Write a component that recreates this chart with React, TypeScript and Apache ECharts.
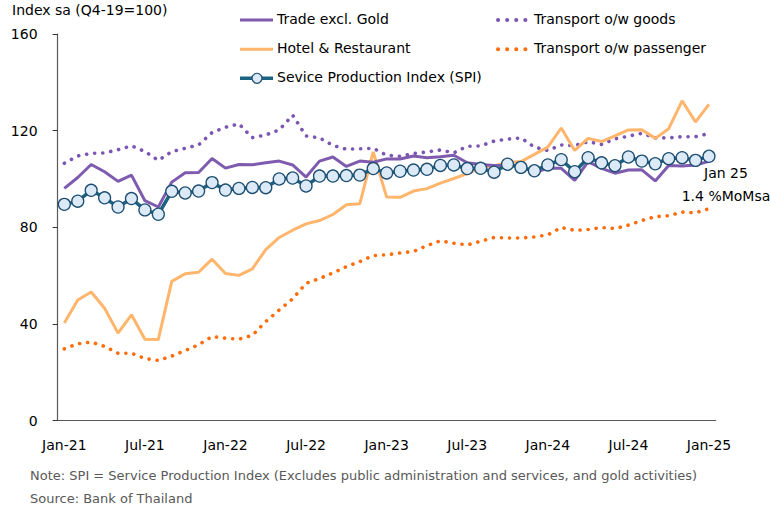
import React, { useEffect, useRef } from "react";
import * as echarts from "echarts";

const months = [
  "Jan-21", "Feb-21", "Mar-21", "Apr-21", "May-21", "Jun-21", "Jul-21", "Aug-21", "Sep-21", "Oct-21", "Nov-21", "Dec-21",
  "Jan-22", "Feb-22", "Mar-22", "Apr-22", "May-22", "Jun-22", "Jul-22", "Aug-22", "Sep-22", "Oct-22", "Nov-22", "Dec-22",
  "Jan-23", "Feb-23", "Mar-23", "Apr-23", "May-23", "Jun-23", "Jul-23", "Aug-23", "Sep-23", "Oct-23", "Nov-23", "Dec-23",
  "Jan-24", "Feb-24", "Mar-24", "Apr-24", "May-24", "Jun-24", "Jul-24", "Aug-24", "Sep-24", "Oct-24", "Nov-24", "Dec-24",
  "Jan-25",
];

const spi = [
  89.5, 90.8, 95.3, 92.2, 88.4, 91.9, 87.2, 85.4, 94.9, 94.2, 95.0, 98.5,
  95.4, 96.1, 96.5, 96.4, 100.0, 100.4, 97.1, 101.2, 101.2, 101.4, 101.6, 104.3,
  102.5, 103.2, 103.7, 104.0, 105.6, 105.8, 104.3, 104.4, 102.8, 106.1, 104.8, 103.4,
  105.8, 108.0, 103.0, 108.8, 106.7, 105.5, 109.1, 107.4, 106.3, 108.4, 108.8, 107.7,
  109.4,
];

const trade = [
  96.1, 100.6, 106.0, 103.0, 99.0, 101.6, 91.0, 88.4, 98.7, 102.6, 102.7, 108.5,
  104.5, 106.0, 105.9, 106.7, 107.4, 105.8, 100.8, 107.4, 109.1, 105.2, 107.4, 106.9,
  108.3, 108.3, 109.5, 108.8, 109.2, 109.8, 106.7, 106.0, 105.6, 105.6, 105.2, 102.7,
  104.4, 104.4, 99.4, 107.2, 104.4, 102.4, 103.7, 103.8, 99.2, 105.6, 105.4, 105.8,
  107.3,
];

const goods = [
  106.5, 109.5, 110.6, 110.8, 112.1, 113.7, 111.4, 107.7, 111.3, 112.7, 114.1, 119.2,
  121.4, 122.8, 117.1, 118.2, 120.3, 126.4, 117.8, 117.0, 113.9, 112.3, 112.5, 112.7,
  109.8, 109.4, 110.5, 111.2, 112.0, 110.8, 113.5, 113.7, 115.7, 116.5, 117.0, 113.2,
  111.8, 114.1, 113.8, 115.4, 114.3, 116.6, 117.7, 118.9, 117.0, 117.0, 117.5, 117.5,
  118.8,
];

const hotel = [
  40.4, 49.9, 53.2, 46.5, 36.2, 43.8, 33.7, 33.6, 57.6, 60.8, 61.4, 66.8,
  60.9, 60.1, 62.8, 70.8, 75.8, 78.8, 81.4, 82.8, 85.3, 89.3, 89.7, 111.2,
  92.5, 92.4, 95.0, 96.0, 98.3, 100.2, 102.2, 104.7, 105.4, 106.8, 107.2, 110.2,
  113.2, 121.1, 111.8, 116.8, 115.5, 117.8, 120.3, 120.4, 116.8, 120.8, 132.3, 123.6,
  130.9,
];

const passenger = [
  29.7, 31.8, 32.5, 30.7, 27.9, 27.9, 25.7, 24.9, 26.7, 29.0, 31.4, 34.8,
  34.1, 33.7, 35.3, 41.0, 45.8, 50.4, 56.8, 58.8, 61.1, 63.7, 65.8, 68.3,
  68.6, 69.4, 70.0, 72.4, 74.4, 73.4, 72.7, 74.2, 75.8, 75.6, 75.6, 76.0,
  76.9, 79.9, 78.7, 79.1, 79.9, 79.5, 80.9, 82.8, 84.4, 84.8, 86.3, 86.0,
  87.7,
];

const FONT = "DejaVu Sans";
const C_TRADE = "#7E5BAE";
const C_GOODS = "#7B55B3";
const C_HOTEL = "#FFB56B";
const C_PASS = "#FF6D0A";
const C_SPI = "#1B6380";
const C_SPI_FILL = "#DCE9F6";
const C_SPI_BORDER = "#1E4F73";

export default function App() {
  const ref = useRef<HTMLDivElement>(null);
  useEffect(() => {
    const chart = echarts.init(ref.current!, null, { renderer: "svg" });
    const dotted = (name: string, data: number[], color: string) => ({
      name,
      type: "line",
      data,
      symbol: "none",
      itemStyle: { color },
      lineStyle: { color, width: 3.6, type: [0.1, 8], cap: "round" },
    });
    const solid = (name: string, data: number[], color: string) => ({
      name,
      type: "line",
      data,
      symbol: "none",
      itemStyle: { color },
      lineStyle: { color, width: 3 },
    });
    const txt = (x: number, y: number, text: string, extra: any = {}) => ({
      type: "text",
      x,
      y,
      style: { text, font: `14px ${FONT}`, fill: "#000", verticalAlign: "middle", ...extra },
    });
    const solidIcon = (y: number, color: string, w = 3) => ({
      type: "line",
      shape: { x1: 240, y1: y, x2: 273, y2: y },
      style: { stroke: color, lineWidth: w },
    });
    const dotIcon = (y: number, color: string) => ({
      type: "line",
      shape: { x1: 498, y1: y, x2: 526, y2: y },
      style: { stroke: color, lineWidth: 4, lineDash: [0.1, 9], lineCap: "round" },
    });
    chart.setOption({
      animation: false,
      textStyle: { fontFamily: FONT },
      grid: { left: 57.6, right: 55.3, top: 34, bottom: 89.4, outerBoundsMode: "none" },
      xAxis: {
        type: "category",
        data: months,
        boundaryGap: true,
        axisLine: { lineStyle: { color: "#595959", width: 1.2 } },
        axisTick: { interval: 2, length: 5, lineStyle: { color: "#333" } },
        axisLabel: { interval: 5, margin: 17, fontSize: 14, color: "#000", fontFamily: FONT },
      },
      yAxis: {
        type: "value",
        min: 0,
        max: 160,
        interval: 40,
        axisLine: { show: true, lineStyle: { color: "#595959", width: 1.2 } },
        axisTick: { show: true, length: 5, lineStyle: { color: "#333" } },
        splitLine: { show: false },
        axisLabel: { margin: 20, fontSize: 14, color: "#000", fontFamily: FONT },
      },
      graphic: [
        txt(12, 10, "Index sa (Q4-19=100)"),
        // legend, column 1
        solidIcon(20, C_TRADE),
        txt(277, 18.5, "Trade excl. Gold"),
        solidIcon(49.3, C_HOTEL),
        txt(277, 47.5, "Hotel & Restaurant"),
        solidIcon(78.3, C_SPI, 3.5),
        {
          type: "circle",
          shape: { cx: 257, cy: 78.3, r: 5 },
          style: { fill: C_SPI_FILL, stroke: C_SPI_BORDER, lineWidth: 1.2 },
        },
        txt(277, 76.5, "Sevice Production Index (SPI)"),
        // legend, column 2
        dotIcon(20, C_GOODS),
        txt(534, 18.5, "Transport o/w goods"),
        dotIcon(49.3, C_PASS),
        txt(534, 47.5, "Transport o/w passenger"),
        // annotation
        txt(726, 173, "Jan 25", { align: "center" }),
        txt(726, 196, "1.4 %MoMsa", { align: "center" }),
        // footnotes
        txt(30, 475, "Note: SPI = Service Production Index (Excludes public administration and services, and gold activities)", {
          font: `13px ${FONT}`,
          fill: "#595959",
        }),
        txt(30, 498, "Source: Bank of Thailand", { font: `13px ${FONT}`, fill: "#595959" }),
      ],
      series: [
        dotted("Transport o/w goods", goods, C_GOODS),
        dotted("Transport o/w passenger", passenger, C_PASS),
        solid("Hotel & Restaurant", hotel, C_HOTEL),
        solid("Trade excl. Gold", trade, C_TRADE),
        {
          name: "Sevice Production Index (SPI)",
          type: "line",
          data: spi,
          symbol: "circle",
          symbolSize: 12,
          showSymbol: true,
          showAllSymbol: true,
          itemStyle: { color: C_SPI_FILL, borderColor: C_SPI_BORDER, borderWidth: 1.3 },
          lineStyle: { color: C_SPI, width: 3.5 },
          z: 5,
        },
      ],
    });
    return () => chart.dispose();
  }, []);
  return <div ref={ref} style={{ position: "absolute", left: 0, top: 0, width: 771, height: 510 }} />;
}
